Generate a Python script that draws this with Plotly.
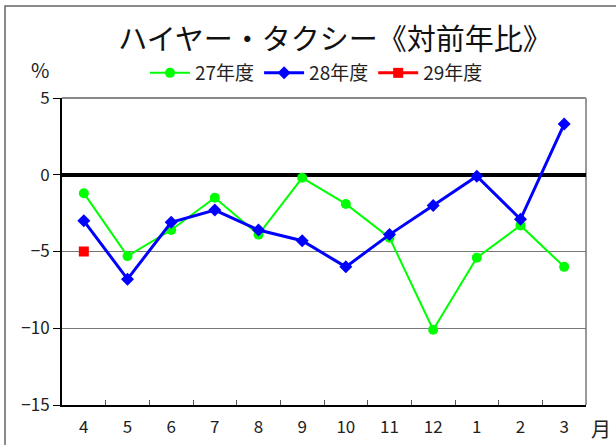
import plotly.graph_objects as go

months = ["4", "5", "6", "7", "8", "9", "10", "11", "12", "1", "2", "3"]
fy27 = [-1.2, -5.3, -3.6, -1.5, -3.9, -0.2, -1.9, -4.1, -10.1, -5.4, -3.3, -6.0]
fy28 = [-3.0, -6.8, -3.1, -2.3, -3.6, -4.3, -6.0, -3.9, -2.0, -0.1, -2.9, 3.3]
fy29 = [-5.0]
series_names = ["27年度", "28年度", "29年度"]

FONT = "Noto Sans CJK JP"

fig = go.Figure()
fig.add_trace(go.Scatter(x=months, y=fy27, name=series_names[0], mode="lines+markers",
                         line=dict(color="#00FF00", width=2),
                         marker=dict(symbol="circle", size=10, color="#00FF00")))
fig.add_trace(go.Scatter(x=months, y=fy28, name=series_names[1], mode="lines+markers",
                         line=dict(color="#0000FF", width=3),
                         marker=dict(symbol="diamond", size=10, color="#0000FF")))
fig.add_trace(go.Scatter(x=months[:len(fy29)], y=fy29, name=series_names[2], mode="lines+markers",
                         line=dict(color="#FF0000", width=3),
                         marker=dict(symbol="square", size=10, color="#FF0000")))

# plot area: x 62..586, y 98..405
W, H = 616, 445
L, R, T, B = 62, 586, 98, 405
pw, ph = R - L, B - T

def px(xp):
    return (xp - L) / pw

def py(yp):
    return (B - yp) / ph

fig.update_layout(
    width=W, height=H,
    margin=dict(l=L, r=W - R, t=T, b=H - B, autoexpand=False),
    paper_bgcolor="white", plot_bgcolor="white",
    font=dict(family=FONT, size=16, color="#222222"),
    title=dict(text="ハイヤー・タクシー《対前年比》", x=(335) / W, xanchor="center",
               y=1 - 40 / H, yanchor="middle",
               font=dict(family=FONT, size=29, color="#111111")),
    showlegend=True,
    legend=dict(orientation="h", x=px(145), xanchor="left", y=py(73), yanchor="middle",
                font=dict(family=FONT, size=19, color="#222222"),
                bgcolor="rgba(0,0,0,0)", itemwidth=40, tracegroupgap=0),
    xaxis=dict(type="category", categoryorder="array", categoryarray=months,
               range=[-0.5, 11.5], tickson="boundaries", ticks="inside", ticklen=5,
               tickcolor="#555555", showline=True, linecolor="black", linewidth=2,
               showgrid=False, zeroline=False, automargin=False, ticklabelstandoff=6,
               tickfont=dict(family=FONT, size=17, color="#222222")),
    yaxis=dict(range=[-15, 5], dtick=5, tick0=0, ticks="outside", ticklen=7,
               tickcolor="black", showline=True, linecolor="black", linewidth=2,
               showgrid=True, gridcolor="#777777", gridwidth=1,
               zeroline=True, zerolinecolor="black", zerolinewidth=4, automargin=False,
               tickfont=dict(family=FONT, size=17, color="#222222")),
    shapes=[
        dict(type="line", xref="paper", yref="paper", x0=0, x1=1, y0=1, y1=1,
             line=dict(color="#888888", width=2), layer="below"),
        dict(type="line", xref="paper", yref="paper", x0=1, x1=1, y0=0, y1=1,
             line=dict(color="#999999", width=2), layer="below"),
        dict(type="rect", xref="paper", yref="paper",
             x0=px(5), x1=px(W + 5), y0=py(6), y1=py(H + 5),
             line=dict(color="#666666", width=1.5), fillcolor="rgba(0,0,0,0)", layer="below"),
    ],
    annotations=[
        dict(text="%", xref="paper", yref="paper", x=px(40), y=py(70),
             xanchor="center", yanchor="middle", showarrow=False,
             font=dict(family=FONT, size=20, color="#222222")),
        dict(text="月", xref="paper", yref="paper", x=px(601), y=py(428),
             xanchor="center", yanchor="middle", showarrow=False,
             font=dict(family=FONT, size=20, color="#222222")),
    ],
)

fig.write_html("out.html", config={"displayModeBar": False},
               post_script="document.body.style.margin='0';document.body.style.padding='0';")
